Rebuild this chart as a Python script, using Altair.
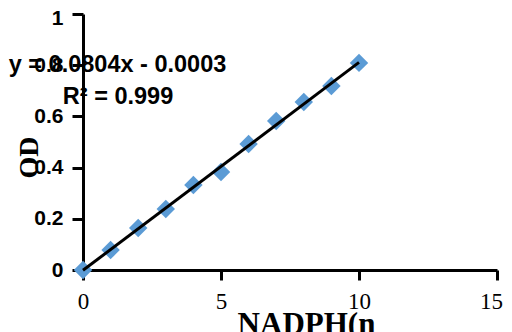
import altair as alt
import pandas as pd

# data
nadph = [0, 1, 2, 3, 4, 5, 6, 7, 8, 9, 10]
od = [0.0, 0.078, 0.164, 0.238, 0.332, 0.383, 0.492, 0.582, 0.656, 0.719, 0.809]
eq_text = ["y = 0.0804x - 0.0003", "R² = 0.999"]
eq_x = [1.25, 1.27]
eq_y = [0.801, 0.676]
x_ticks = [0, 5, 10, 15]
y_ticks = [0, 0.2, 0.4, 0.6, 0.8, 1]

df = pd.DataFrame({"nadph": nadph, "od": od})
ann = pd.DataFrame({"t": eq_text, "x": eq_x, "y": eq_y})

xscale = alt.Scale(domain=[0, 15], nice=False, zero=False)
yscale = alt.Scale(domain=[0, 1], nice=False, zero=False)

xaxis = alt.Axis(
    values=x_ticks, grid=False, domainColor="black", domainWidth=3,
    tickColor="black", tickWidth=3, tickSize=10,
    labelFont="Liberation Serif", labelFontSize=23, labelColor="black",
    labelPadding=10, labelFlush=False, labelOverlap=False,
    labelOffset={"condition": {"test": "datum.value == 15", "value": -6}, "value": 0},
    title="NADPH(n", titleFont="Liberation Serif", titleFontSize=31,
    titleFontWeight="bold", titleColor="black",
    titleX=223, titleY=63, titleAlign="center", titleBaseline="alphabetic",
)
yaxis = alt.Axis(
    values=y_ticks, format="~g", grid=False, domainColor="black", domainWidth=3,
    tickColor="black", tickWidth=3, tickSize=11,
    labelFont="Liberation Sans", labelFontSize=21, labelFontWeight="bold",
    labelColor="black", labelPadding=9, labelFlush=False, labelOverlap=False,
    labelOffset={"condition": {"test": "datum.value == 1", "value": 4}, "value": 0},
    title="OD", titleFont="Liberation Serif", titleFontSize=28,
    titleFontWeight="bold", titleColor="black", titleAngle=-90,
    titleX=-54, titleY=143, titleAlign="center", titleBaseline="middle",
)

pts = alt.Chart(df).mark_point(shape="diamond", filled=True, size=340,
                               color="#5B9BD5", opacity=1).encode(
    x=alt.X("nadph:Q", scale=xscale, axis=xaxis),
    y=alt.Y("od:Q", scale=yscale, axis=yaxis),
)

trend = alt.Chart(df).transform_regression(
    "nadph", "od", extent=[0, 10]
).mark_line(color="black", strokeWidth=3).encode(
    x=alt.X("nadph:Q", scale=xscale),
    y=alt.Y("od:Q", scale=yscale),
)

txt = alt.Chart(ann).mark_text(
    font="Liberation Sans", fontSize=23.5, fontWeight="bold", color="black",
    align="center", baseline="middle"
).encode(
    x=alt.X("x:Q", scale=xscale),
    y=alt.Y("y:Q", scale=yscale),
    text="t:N",
)

chart = alt.layer(pts, trend, txt).properties(
    width=414, height=256,
    autosize="none",
    padding={"left": 75, "top": 6, "right": 7, "bottom": 62},
    background="white",
).configure_view(stroke=None)

chart.save("out.html", embed_options={"renderer": "svg", "actions": False})
